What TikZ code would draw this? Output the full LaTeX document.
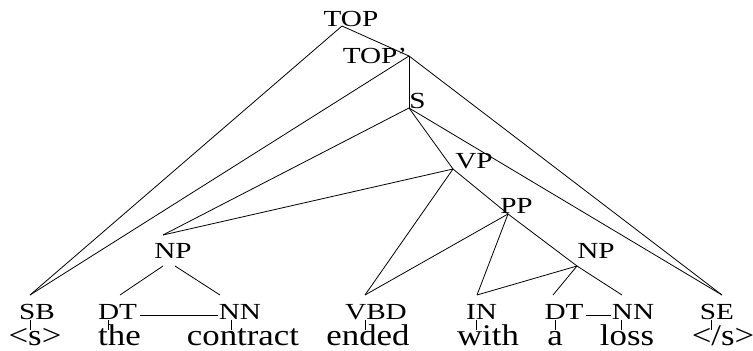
\documentclass[tikz,border=0pt]{standalone}
\usepackage{fontspec}
\setmainfont[FakeStretch=1.27]{Liberation Serif}
\newfontfamily\wordfont[FakeStretch=1.16]{Liberation Serif}
\begin{document}
\begin{tikzpicture}[x=1pt,y=-1pt,
  lbl/.style={anchor=base, inner sep=0pt, text height=0.66em, text depth=0pt, font=\fontsize{23}{23}\selectfont},
  word/.style={anchor=base, inner sep=0pt, text height=0.6em, text depth=0.1em, font=\wordfont\fontsize{30}{30}\selectfont},
  edge/.style={line width=0.8pt}]
\useasboundingbox (0,0) rectangle (753,351);
% internal labels
\node[lbl] (TOP)  at (351,26)  {TOP};
\node[lbl] (TOPp) at (375,63)  {TOP'};
\node[lbl] (S)    at (417.5,108) {S};
\node[lbl] (VP)   at (474,168) {VP};
\node[lbl] (PP)   at (516.5,213) {PP};
\node[lbl] (NPL)  at (173,258) {NP};
\node[lbl] (NPR)  at (596,258) {NP};
% POS row
\node[lbl] (SB)   at (37,319)  {SB};
\node[lbl] (DTa)  at (117.5,319) {DT};
\node[lbl] (NNa)  at (240,319) {NN};
\node[lbl] (VBD)  at (376,319) {VBD};
\node[lbl] (IN)   at (481.5,319) {IN};
\node[lbl] (DTb)  at (564,319) {DT};
\node[lbl] (NNb)  at (633,319) {NN};
\node[lbl] (SE)   at (717,319) {SE};
% words
\node[word] (w1) at (35,345)  {<s>};
\node[word] (w2) at (119.5,345) {the};
\node[word] (w3) at (243,345) {contract};
\node[word] (w4) at (368,345) {ended};
\node[word] (w5) at (488,345) {with};
\node[word] (w6) at (555,345) {a};
\node[word] (w7) at (627,345) {loss};
\node[word] (w8) at (723,345) {</s>};
% attachment points
\coordinate (aTOP)  at (342,26);
\coordinate (aTOPp) at (409,56);
\coordinate (aS)    at (409,108);
\coordinate (aVP)   at (453,169);
\coordinate (aPP)   at (508,214);
\coordinate (aNPLi) at (163,235);
\coordinate (aNPLd) at (163,266);
\coordinate (aNPLn) at (175,266);
\coordinate (aNPR)  at (577,266);
\coordinate (aSB)   at (30,295);
\coordinate (aDTa)  at (120,295);
\coordinate (aNNa)  at (220,295);
\coordinate (aVBD)  at (365,295);
\coordinate (aIN)   at (477,295);
\coordinate (aDTb)  at (553,295);
\coordinate (aNNb)  at (622,295);
\coordinate (aSE)   at (722,295);
% tree edges
\draw[edge] (aTOP) -- (aSB);
\draw[edge] (aTOP) -- (aTOPp);
\draw[edge] (aTOPp) -- (aSB);
\draw[edge] (aTOPp) -- (aS);
\draw[edge] (aTOPp) -- (aSE);
\draw[edge] (aS) -- (aNPLi);
\draw[edge] (aS) -- (aVP);
\draw[edge] (aS) -- (aSE);
\draw[edge] (aVP) -- (aNPLi);
\draw[edge] (aVP) -- (aVBD);
\draw[edge] (aVP) -- (aPP);
\draw[edge] (aPP) -- (aVBD);
\draw[edge] (aPP) -- (aIN);
\draw[edge] (aPP) -- (aNPR);
\draw[edge] (aNPR) -- (aIN);
\draw[edge] (aNPR) -- (aDTb);
\draw[edge] (aNPR) -- (aNNb);
\draw[edge] (aNPLd) -- (aDTa);
\draw[edge] (aNPLn) -- (aNNa);
% horizontal links
\draw[edge] ([xshift=3pt]DTa.east) -- ([xshift=-1pt]NNa.west);
\draw[edge] ([xshift=2pt]DTb.east) -- ([xshift=-1pt]NNb.west);
% leaf links
\foreach \n/\x in {SB/30,DTa/108,NNa/231,VBD/365,IN/476,DTb/555,NNb/621,SE/711}{
  \coordinate (\n t) at (\x,320);
  \coordinate (\n b) at (\x,330);
  \draw[edge] (\n t) -- (\n b);
}
\end{tikzpicture}
\end{document}
